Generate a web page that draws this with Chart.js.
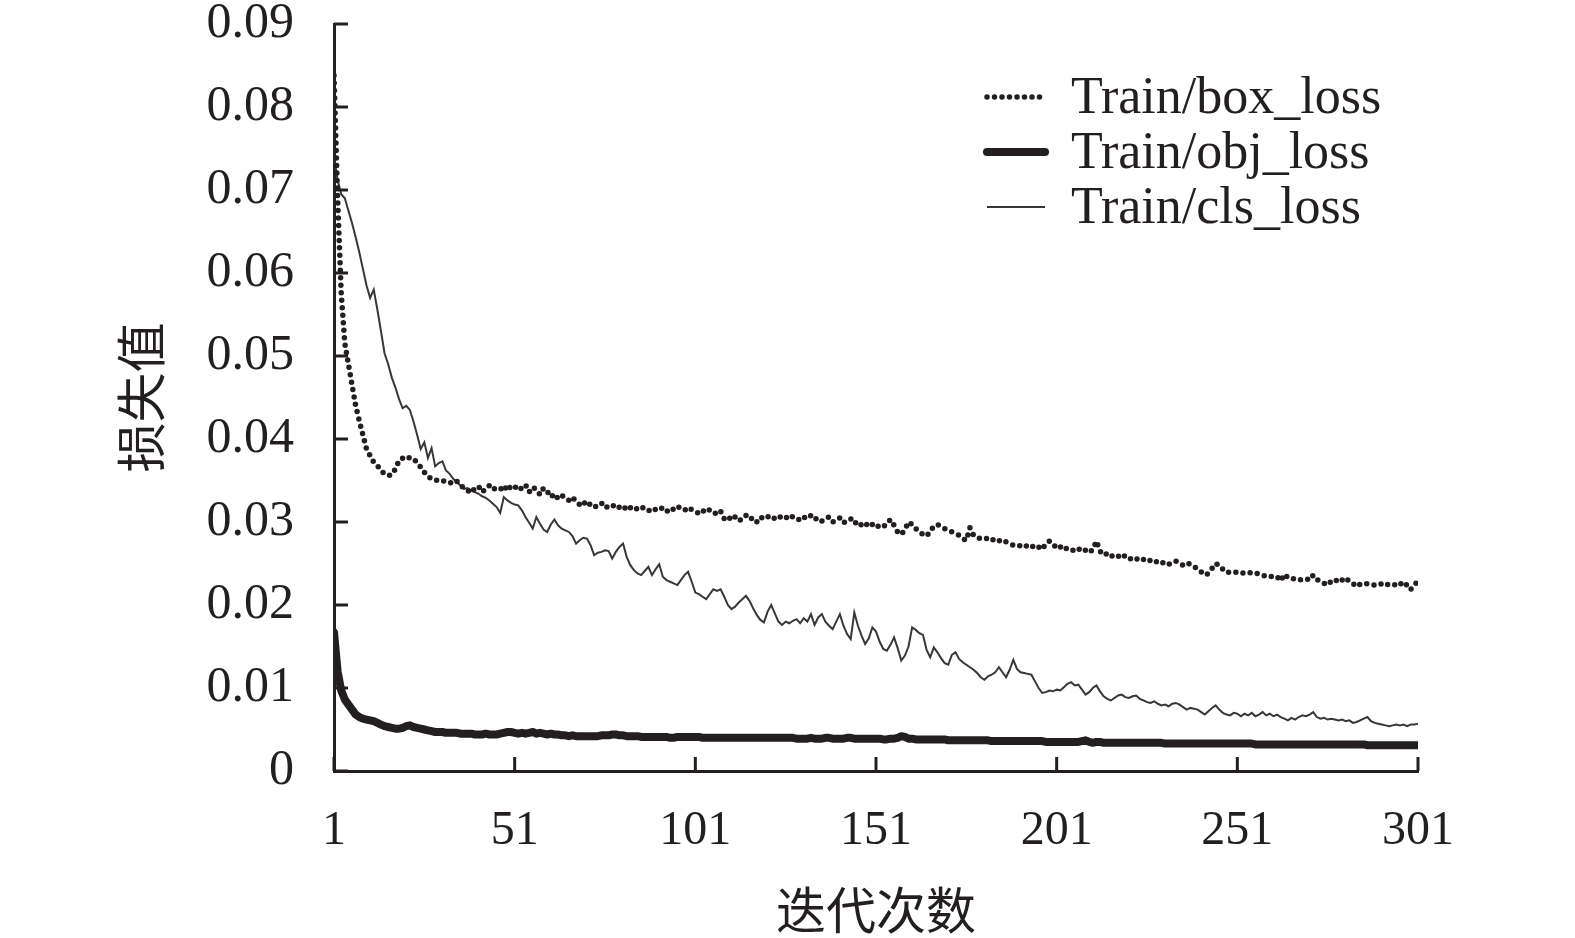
<!DOCTYPE html>
<html lang="zh">
<head>
<meta charset="UTF-8">
<title>损失值曲线</title>
<script src="https://cdn.jsdelivr.net/npm/chart.js@4.4.0/dist/chart.umd.min.js"></script>
<style>
  html, body { margin: 0; padding: 0; background: #ffffff; }
  #chartBox { width: 1575px; height: 938px; }
</style>
</head>
<body>
<div id="chartBox"><canvas id="lossChart" width="1575" height="938"></canvas></div>
<script>
//--------------------Data-------------------
// epochs 1..301 (x categories)
const epochs = Array.from({ length: 301 }, (_, i) => i + 1);

const xTickValues = [1, 51, 101, 151, 201, 251, 301];
const yTickValues = [0, 0.01, 0.02, 0.03, 0.04, 0.05, 0.06, 0.07, 0.08, 0.09];

const seriesNames = ["Train/box_loss", "Train/obj_loss", "Train/cls_loss"];

// Train/box_loss (dotted)
const boxLoss = [
  0.0838, 0.0690, 0.0575, 0.0515, 0.0490, 0.0465, 0.0440, 0.0422, 0.0405, 0.0388,
  0.0380, 0.0372, 0.0368, 0.0362, 0.0358, 0.0356, 0.0357, 0.0364, 0.0374, 0.0377,
  0.0375, 0.0378, 0.0376, 0.0372, 0.0366, 0.0360, 0.0355, 0.0352, 0.0350, 0.0351,
  0.0349, 0.0350, 0.0348, 0.0346, 0.0349, 0.0345, 0.0340, 0.0338, 0.0335, 0.0341,
  0.0343, 0.0336, 0.0340, 0.0344, 0.0339, 0.0342, 0.0341, 0.0337, 0.0345, 0.0340,
  0.0343, 0.0338, 0.0341, 0.0345, 0.0336, 0.0342, 0.0339, 0.0333, 0.0341, 0.0337,
  0.0330, 0.0334, 0.0328, 0.0332, 0.0329, 0.0326, 0.0330, 0.0324, 0.0321, 0.0325,
  0.0319, 0.0322, 0.0318, 0.0320, 0.0323, 0.0317, 0.0319, 0.0321, 0.0316, 0.0318,
  0.0320, 0.0314, 0.0317, 0.0319, 0.0315, 0.0318, 0.0316, 0.0313, 0.0317, 0.0315,
  0.0318, 0.0316, 0.0312, 0.0317, 0.0315, 0.0319, 0.0316, 0.0314, 0.0318, 0.0315,
  0.0313, 0.0310, 0.0314, 0.0311, 0.0315, 0.0312, 0.0309, 0.0313, 0.0304, 0.0307,
  0.0302, 0.0306, 0.0301, 0.0304, 0.0308, 0.0303, 0.0305, 0.0300, 0.0306, 0.0304,
  0.0307, 0.0303, 0.0305, 0.0308, 0.0304, 0.0306, 0.0303, 0.0307, 0.0305, 0.0302,
  0.0306, 0.0304, 0.0308, 0.0303, 0.0305, 0.0301, 0.0304, 0.0306, 0.0300, 0.0303,
  0.0305, 0.0299, 0.0302, 0.0304, 0.0298, 0.0301, 0.0296, 0.0299, 0.0294, 0.0297,
  0.0293, 0.0296, 0.0294, 0.0298, 0.0303, 0.0296, 0.0288, 0.0285, 0.0291, 0.0300,
  0.0297, 0.0292, 0.0288, 0.0285, 0.0283, 0.0289, 0.0295, 0.0297, 0.0294, 0.0292,
  0.0290, 0.0288, 0.0286, 0.0284, 0.0280, 0.0278, 0.0293, 0.0284, 0.0281, 0.0280,
  0.0279, 0.0281, 0.0278, 0.0280, 0.0277, 0.0279, 0.0276, 0.0274, 0.0272, 0.0273,
  0.0271, 0.0273, 0.0270, 0.0272, 0.0268, 0.0270, 0.0267, 0.0274, 0.0277, 0.0274,
  0.0268, 0.0270, 0.0266, 0.0269, 0.0267, 0.0265, 0.0268, 0.0264, 0.0266, 0.0263,
  0.0267, 0.0277, 0.0265, 0.0260, 0.0262, 0.0258, 0.0261, 0.0259, 0.0256, 0.0260,
  0.0257, 0.0254, 0.0256, 0.0253, 0.0255, 0.0252, 0.0254, 0.0251, 0.0253, 0.0250,
  0.0252, 0.0249, 0.0251, 0.0253, 0.0250, 0.0248, 0.0251, 0.0249, 0.0246, 0.0244,
  0.0240, 0.0236, 0.0238, 0.0244, 0.0250, 0.0248, 0.0243, 0.0239, 0.0240, 0.0239,
  0.0240, 0.0238, 0.0239, 0.0240, 0.0238, 0.0239, 0.0237, 0.0236, 0.0234, 0.0235,
  0.0233, 0.0234, 0.0229, 0.0237, 0.0233, 0.0231, 0.0232, 0.0230, 0.0231, 0.0232,
  0.0230, 0.0236, 0.0231, 0.0228, 0.0226, 0.0224, 0.0229, 0.0231, 0.0227, 0.0230,
  0.0233, 0.0228, 0.0226, 0.0222, 0.0225, 0.0224, 0.0226, 0.0225, 0.0224, 0.0226,
  0.0225, 0.0223, 0.0226, 0.0225, 0.0224, 0.0227, 0.0222, 0.0225, 0.0219, 0.0224,
  0.0229
];

// Train/obj_loss (thick)
const objLoss = [
  0.0167, 0.0120, 0.0097, 0.0086, 0.0080, 0.0074, 0.0068, 0.0065, 0.0063, 0.0062,
  0.0061, 0.0060, 0.0058, 0.0056, 0.0054, 0.0053, 0.0052, 0.0051, 0.0051, 0.0052,
  0.0054, 0.0055, 0.0053, 0.0052, 0.0051, 0.0050, 0.0049, 0.0048, 0.0047, 0.0047,
  0.0047, 0.0046, 0.0046, 0.0046, 0.0046, 0.0045, 0.0045, 0.0045, 0.0045, 0.0044,
  0.0044, 0.0044, 0.0045, 0.0044, 0.0044, 0.0044, 0.0045, 0.0046, 0.0047, 0.0047,
  0.0046, 0.0045, 0.0046, 0.0045, 0.0046, 0.0047, 0.0045, 0.0046, 0.0045, 0.0044,
  0.0045, 0.0044, 0.0044, 0.0043, 0.0043, 0.0042, 0.0043, 0.0042, 0.0042, 0.0042,
  0.0042, 0.0042, 0.0042, 0.0042, 0.0043, 0.0043, 0.0043, 0.0044, 0.0044, 0.0043,
  0.0043, 0.0042, 0.0042, 0.0042, 0.0042, 0.0041, 0.0041, 0.0041, 0.0041, 0.0041,
  0.0041, 0.0041, 0.0041, 0.0040, 0.0040, 0.0041, 0.0041, 0.0041, 0.0041, 0.0041,
  0.0041, 0.0041, 0.0040, 0.0040, 0.0040, 0.0040, 0.0040, 0.0040, 0.0040, 0.0040,
  0.0040, 0.0040, 0.0040, 0.0040, 0.0040, 0.0040, 0.0040, 0.0040, 0.0040, 0.0040,
  0.0040, 0.0040, 0.0040, 0.0040, 0.0040, 0.0040, 0.0040, 0.0040, 0.0039, 0.0039,
  0.0039, 0.0039, 0.0040, 0.0039, 0.0039, 0.0039, 0.0040, 0.0040, 0.0039, 0.0039,
  0.0039, 0.0039, 0.0040, 0.0040, 0.0039, 0.0039, 0.0039, 0.0039, 0.0039, 0.0039,
  0.0039, 0.0039, 0.0038, 0.0038, 0.0039, 0.0039, 0.0040, 0.0042, 0.0041, 0.0039,
  0.0039, 0.0038, 0.0038, 0.0038, 0.0038, 0.0038, 0.0038, 0.0038, 0.0038, 0.0038,
  0.0037, 0.0037, 0.0037, 0.0037, 0.0037, 0.0037, 0.0037, 0.0037, 0.0037, 0.0037,
  0.0037, 0.0037, 0.0036, 0.0036, 0.0036, 0.0036, 0.0036, 0.0036, 0.0036, 0.0036,
  0.0036, 0.0036, 0.0036, 0.0036, 0.0036, 0.0036, 0.0036, 0.0035, 0.0035, 0.0035,
  0.0035, 0.0035, 0.0035, 0.0035, 0.0035, 0.0035, 0.0035, 0.0036, 0.0037, 0.0035,
  0.0034, 0.0035, 0.0035, 0.0034, 0.0034, 0.0034, 0.0034, 0.0034, 0.0034, 0.0034,
  0.0034, 0.0034, 0.0034, 0.0034, 0.0034, 0.0034, 0.0034, 0.0034, 0.0034, 0.0034,
  0.0033, 0.0033, 0.0033, 0.0033, 0.0033, 0.0033, 0.0033, 0.0033, 0.0033, 0.0033,
  0.0033, 0.0033, 0.0033, 0.0033, 0.0033, 0.0033, 0.0033, 0.0033, 0.0033, 0.0033,
  0.0033, 0.0033, 0.0033, 0.0033, 0.0033, 0.0032, 0.0032, 0.0032, 0.0032, 0.0032,
  0.0032, 0.0032, 0.0032, 0.0032, 0.0032, 0.0032, 0.0032, 0.0032, 0.0032, 0.0032,
  0.0032, 0.0032, 0.0032, 0.0032, 0.0032, 0.0032, 0.0032, 0.0032, 0.0032, 0.0032,
  0.0032, 0.0032, 0.0032, 0.0032, 0.0032, 0.0032, 0.0031, 0.0031, 0.0031, 0.0031,
  0.0031, 0.0031, 0.0031, 0.0031, 0.0031, 0.0031, 0.0031, 0.0031, 0.0031, 0.0031,
  0.0031
];

// Train/cls_loss (thin)
const clsLoss = [
  0.0740, 0.0712, 0.0695, 0.0690, 0.0675, 0.0660, 0.0643, 0.0625, 0.0605, 0.0585,
  0.0570, 0.0580, 0.0556, 0.0530, 0.0503, 0.0490, 0.0474, 0.0462, 0.0448, 0.0437,
  0.0440, 0.0435, 0.0421, 0.0405, 0.0388, 0.0396, 0.0377, 0.0389, 0.0367, 0.0371,
  0.0373, 0.0362, 0.0358, 0.0352, 0.0348, 0.0344, 0.0340, 0.0341, 0.0338, 0.0336,
  0.0334, 0.0331, 0.0329, 0.0326, 0.0322, 0.0318, 0.0311, 0.0330, 0.0326, 0.0323,
  0.0321, 0.0320, 0.0314, 0.0306, 0.0299, 0.0292, 0.0306, 0.0298, 0.0291, 0.0288,
  0.0297, 0.0303, 0.0296, 0.0292, 0.0290, 0.0288, 0.0283, 0.0274, 0.0278, 0.0281,
  0.0280, 0.0272, 0.0260, 0.0263, 0.0264, 0.0266, 0.0265, 0.0256, 0.0264, 0.0270,
  0.0274, 0.0258, 0.0248, 0.0242, 0.0238, 0.0236, 0.0241, 0.0246, 0.0236, 0.0243,
  0.0249, 0.0234, 0.0230, 0.0228, 0.0226, 0.0224, 0.0230, 0.0236, 0.0240, 0.0228,
  0.0215, 0.0213, 0.0210, 0.0207, 0.0213, 0.0219, 0.0217, 0.0219, 0.0210, 0.0200,
  0.0195, 0.0198, 0.0203, 0.0207, 0.0211, 0.0205, 0.0196, 0.0188, 0.0182, 0.0179,
  0.0192, 0.0200, 0.0190, 0.0180, 0.0176, 0.0180, 0.0178, 0.0181, 0.0183, 0.0178,
  0.0184, 0.0180, 0.0189, 0.0176, 0.0185, 0.0189, 0.0180, 0.0175, 0.0171, 0.0180,
  0.0189, 0.0175, 0.0165, 0.0159, 0.0191, 0.0175, 0.0163, 0.0153, 0.0160, 0.0173,
  0.0168, 0.0156, 0.0147, 0.0145, 0.0152, 0.0161, 0.0148, 0.0133, 0.0139, 0.0150,
  0.0173, 0.0170, 0.0166, 0.0164, 0.0146, 0.0137, 0.0149, 0.0143, 0.0136, 0.0130,
  0.0128, 0.0140, 0.0143, 0.0135, 0.0131, 0.0128, 0.0125, 0.0122, 0.0118, 0.0113,
  0.0110, 0.0114, 0.0116, 0.0119, 0.0125, 0.0119, 0.0113, 0.0122, 0.0134, 0.0123,
  0.0119, 0.0118, 0.0117, 0.0116, 0.0108, 0.0100, 0.0094, 0.0095, 0.0097, 0.0096,
  0.0098, 0.0097, 0.0101, 0.0105, 0.0107, 0.0103, 0.0104, 0.0098, 0.0092, 0.0095,
  0.0100, 0.0103, 0.0096, 0.0090, 0.0087, 0.0085, 0.0088, 0.0091, 0.0092, 0.0089,
  0.0088, 0.0090, 0.0091, 0.0087, 0.0085, 0.0083, 0.0082, 0.0084, 0.0081, 0.0079,
  0.0080, 0.0078, 0.0081, 0.0082, 0.0080, 0.0077, 0.0074, 0.0076, 0.0075, 0.0074,
  0.0071, 0.0068, 0.0072, 0.0076, 0.0079, 0.0074, 0.0070, 0.0068, 0.0067, 0.0070,
  0.0069, 0.0066, 0.0069, 0.0067, 0.0070, 0.0066, 0.0068, 0.0071, 0.0067, 0.0069,
  0.0066, 0.0068, 0.0065, 0.0063, 0.0061, 0.0064, 0.0062, 0.0065, 0.0067, 0.0066,
  0.0068, 0.0071, 0.0065, 0.0063, 0.0064, 0.0062, 0.0063, 0.0062, 0.0061, 0.0062,
  0.0060, 0.0061, 0.0058, 0.0059, 0.0061, 0.0063, 0.0065, 0.0060, 0.0058, 0.0057,
  0.0056, 0.0055, 0.0054, 0.0055, 0.0056, 0.0055, 0.0056, 0.0054, 0.0056, 0.0056,
  0.0057
];

//--------------------Style-------------------
const inkColor = "#231f20";
const serifFont = "'Liberation Serif', 'Times New Roman', serif";
const cjkFont = "'Liberation Serif', 'Noto Sans CJK SC', serif";

// Legend drawn inside the plot, top right
const lossLegend = {
  id: "lossLegend",
  afterDraw(chart) {
    const ctx = chart.ctx;
    ctx.save();
    chart.data.datasets.forEach((ds, i) => {
      const y = 97 + i * 55;
      ctx.beginPath();
      ctx.lineWidth = ds.borderWidth;
      ctx.strokeStyle = ds.borderColor;
      ctx.lineCap = ds.borderCapStyle || "butt";
      ctx.setLineDash(ds.borderDash || []);
      ctx.moveTo(987, y);
      ctx.lineTo(1045, y);
      ctx.stroke();

      ctx.setLineDash([]);
      ctx.fillStyle = inkColor;
      ctx.font = `52px ${serifFont}`;
      ctx.textBaseline = "middle";
      ctx.textAlign = "left";
      ctx.fillText(ds.label, 1071, y + 2);
    });
    ctx.restore();
  }
};

// Tick marks pointing into the plot
const innerTicks = {
  id: "innerTicks",
  afterDatasetsDraw(chart) {
    const { ctx, chartArea, scales } = chart;
    ctx.save();
    ctx.strokeStyle = inkColor;
    ctx.lineWidth = 3;
    scales.x.ticks.forEach((t) => {
      const px = scales.x.getPixelForValue(t.value);
      ctx.beginPath();
      ctx.moveTo(px, chartArea.bottom);
      ctx.lineTo(px, chartArea.bottom - 14);
      ctx.stroke();
    });
    scales.y.ticks.forEach((t) => {
      const py = scales.y.getPixelForValue(t.value);
      ctx.beginPath();
      ctx.moveTo(chartArea.left, py);
      ctx.lineTo(chartArea.left + 14, py);
      ctx.stroke();
    });
    ctx.restore();
  }
};

function toPoints(values) {
  return values.map((v, i) => ({ x: epochs[i], y: v }));
}

function createLossChart() {
  const ctx = document.getElementById("lossChart").getContext("2d");

  const data = {
    datasets: [
      {
        label: seriesNames[0],
        data: toPoints(boxLoss),
        borderColor: inkColor,
        borderWidth: 5.5,
        borderDash: [0, 7.5],
        borderCapStyle: "round",
        pointRadius: 0,
        tension: 0
      },
      {
        label: seriesNames[1],
        data: toPoints(objLoss),
        borderColor: inkColor,
        borderWidth: 8,
        borderCapStyle: "round",
        borderJoinStyle: "round",
        pointRadius: 0,
        tension: 0
      },
      {
        label: seriesNames[2],
        data: toPoints(clsLoss),
        borderColor: "#3a3637",
        borderWidth: 2,
        borderCapStyle: "butt",
        pointRadius: 0,
        tension: 0
      }
    ]
  };

  const config = {
    type: "line",
    data: data,
    options: {
      responsive: false,
      animation: false,
      devicePixelRatio: 1,
      layout: { padding: { left: 0, right: 157, top: 24, bottom: 0 } },
      plugins: {
        legend: { display: false },
        tooltip: { enabled: false }
      },
      scales: {
        x: {
          type: "linear",
          min: 1,
          max: 301,
          afterBuildTicks: (axis) => {
            axis.ticks = xTickValues.map((v) => ({ value: v }));
          },
          afterFit: (axis) => {
            axis.height = 167;
          },
          grid: { display: false, drawTicks: false },
          border: { display: true, width: 3, color: inkColor },
          ticks: {
            color: inkColor,
            font: { family: serifFont, size: 48 },
            padding: 32,
            maxRotation: 0,
            autoSkip: false,
            callback: (v) => String(v)
          },
          title: {
            display: true,
            text: "迭代次数",
            color: inkColor,
            font: { family: cjkFont, size: 50 },
            padding: { top: 0, bottom: -8 }
          }
        },
        y: {
          type: "linear",
          min: 0,
          max: 0.09,
          afterBuildTicks: (axis) => {
            axis.ticks = yTickValues.map((v) => ({ value: v }));
          },
          afterFit: (axis) => {
            axis.width = 334;
            axis.paddingTop = 0;
            axis.paddingBottom = 0;
          },
          grid: { display: false, drawTicks: false },
          border: { display: true, width: 3, color: inkColor },
          ticks: {
            color: inkColor,
            font: { family: serifFont, size: 50 },
            padding: 40,
            autoSkip: false,
            callback: (v) => (v === 0 ? "0" : v.toFixed(2))
          },
          title: {
            display: true,
            text: "损失值",
            color: inkColor,
            font: { family: cjkFont, size: 50 },
            padding: { top: 117, bottom: 0 }
          }
        }
      }
    },
    plugins: [innerTicks, lossLegend]
  };

  return new Chart(ctx, config);
}

document.addEventListener("DOMContentLoaded", function () {
  createLossChart();
});
</script>
</body>
</html>
